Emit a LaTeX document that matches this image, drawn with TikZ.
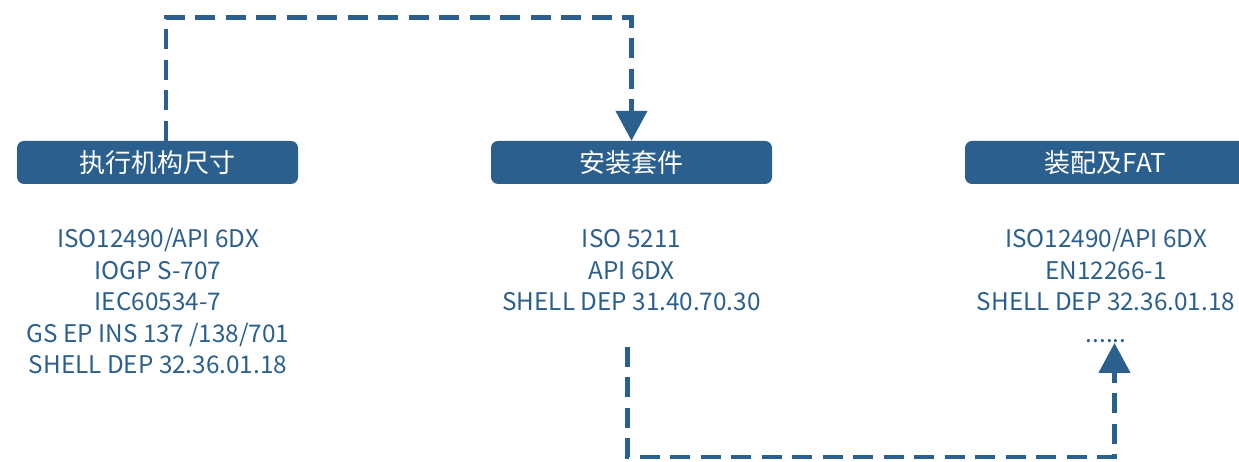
\documentclass[tikz,border=0pt]{standalone}
\usepackage{fontspec}
\setmainfont{Noto Sans CJK SC}
\usetikzlibrary{arrows.meta}
\definecolor{boxblue}{HTML}{2B5F8D}
\newcommand{\stdlines}[1]{\begin{tabular}[t]{@{}c@{}}#1\end{tabular}}

\begin{document}
\begin{tikzpicture}[x=1pt, y=1pt,
    >={Triangle[length=30pt, width=31pt]},
    box/.style={fill=boxblue, rounded corners=7pt, minimum width=281pt, minimum height=43pt,
        inner sep=0pt, text=white, font=\fontsize{26}{30}\selectfont},
    std/.style={anchor=base, text=boxblue, inner sep=0pt,
        font=\fontsize{24.3}{31.5}\selectfont},
    flow/.style={->, boxblue, line width=4.5pt, dash pattern=on 20pt off 10.5pt}]
    \clip (0,0) rectangle (1239,462);

    % Stage boxes
    \node[box] (act) at (157.5, 299.5) {执行机构尺寸};
    \node[box] (kit) at (631.5, 299.5) {安装套件};
    \node[box] (fat) at (1105.5, 299.5) {装配及FAT};

    % Standards under each stage
    \node[std] (actstd) at (158, 214) {\stdlines{ISO12490/API 6DX\\IOGP S-707\\IEC60534-7\\GS EP INS 137 /138/701\\SHELL DEP 32.36.01.18}};
    \node[std] (kitstd) at (631.5, 214) {\stdlines{ISO 5211\\API 6DX\\SHELL DEP 31.40.70.30}};
    \node[std] (fatstd) at (1106, 214) {\stdlines{ISO12490/API 6DX\\EN12266-1\\SHELL DEP 32.36.01.18\\......}};

    % Free ends of the lower connector
    \coordinate (kitout) at (627.5, 115);
    \coordinate (fatin) at (1114.5, 119);

    % Dashed connectors
    \draw[flow] ([xshift=8.5pt]act.north) -- ++(0, 123.5) -| (kit.north);
    \draw[flow] (kitout) -- ++(0, -110) -| (fatin);
\end{tikzpicture}
\end{document}
